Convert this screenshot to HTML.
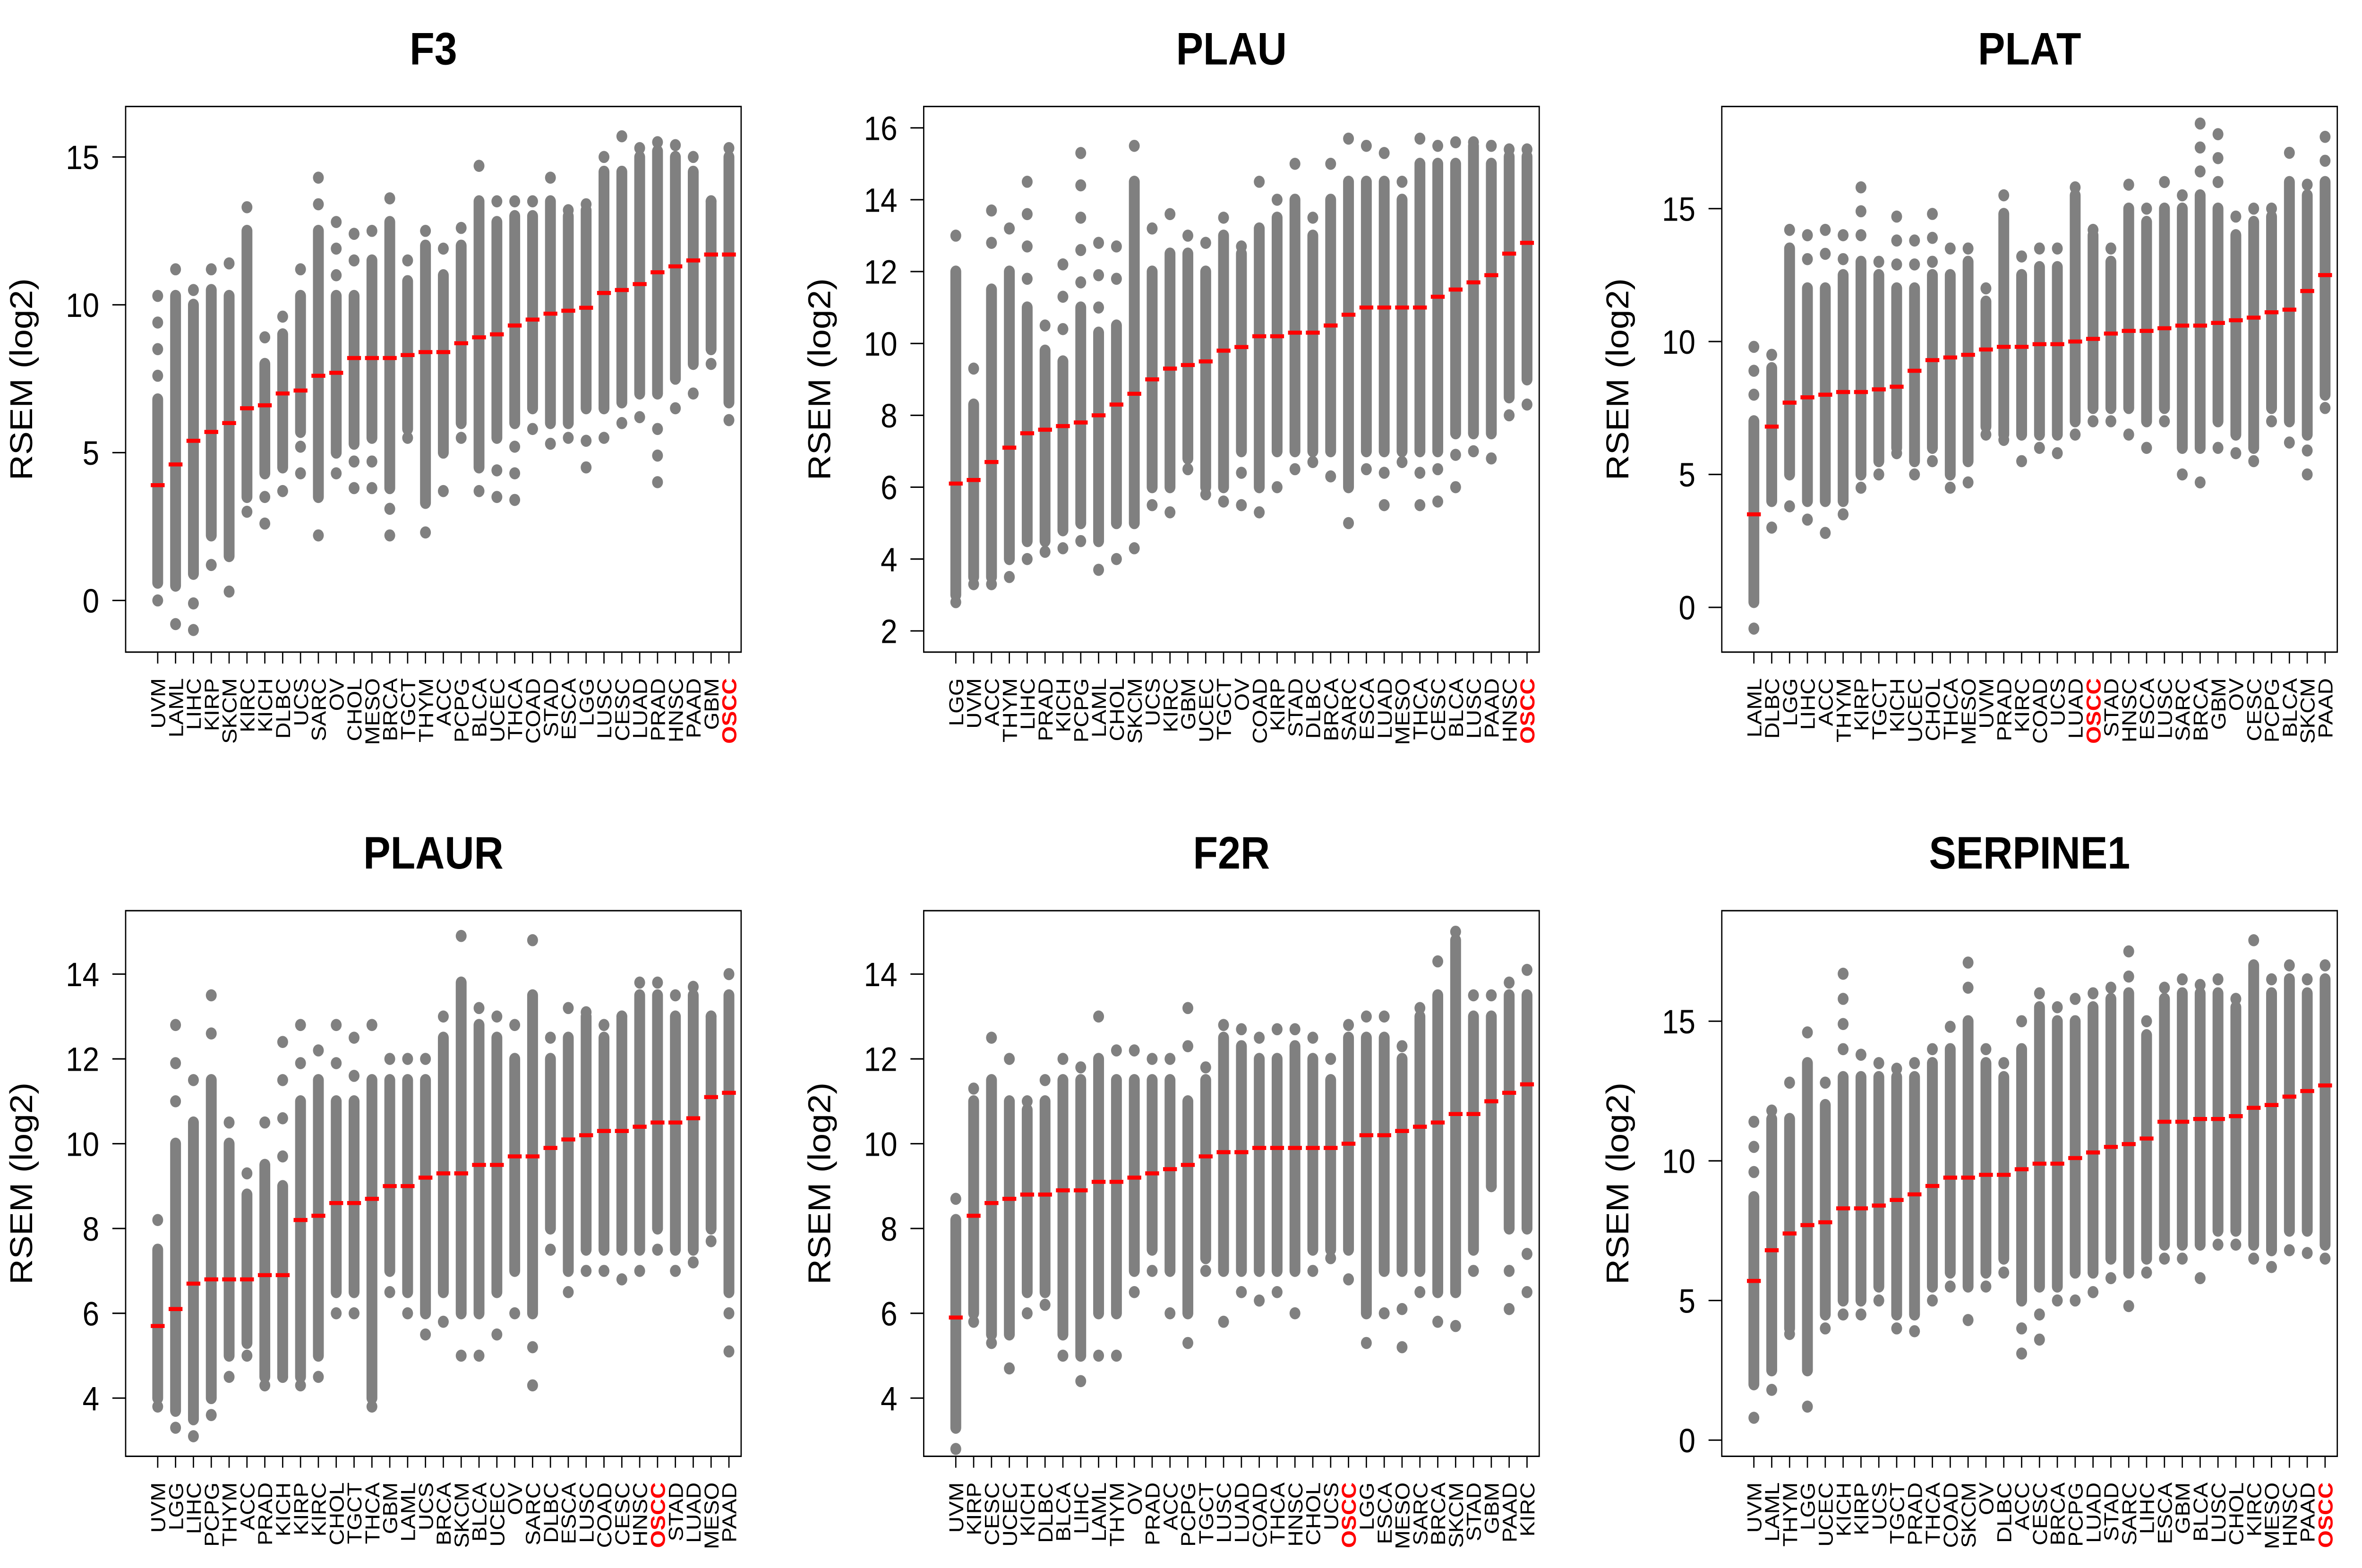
<!DOCTYPE html>
<html><head><meta charset="utf-8"><style>
html,body{margin:0;padding:0;background:#fff;width:100vw;height:100vh;overflow:hidden;}
svg{display:block;position:absolute;left:0;top:0;width:100vw;height:100vh;}
text{font-family:"Liberation Sans",Arial,sans-serif;}
</style></head><body>
<svg id="fig" viewBox="0 0 1568 932" preserveAspectRatio="none" xmlns="http://www.w3.org/2000/svg"></svg>
<script>
// ---------- DATA ----------
const f3Cats = ["UVM","LAML","LIHC","KIRP","SKCM","KIRC","KICH","DLBC","UCS","SARC","OV","CHOL","MESO","BRCA","TGCT","THYM","ACC","PCPG","BLCA","UCEC","THCA","COAD","STAD","ESCA","LGG","LUSC","CESC","LUAD","PRAD","HNSC","PAAD","GBM","OSCC"];
const f3Med = [3.9,4.6,5.4,5.7,6.0,6.5,6.6,7.0,7.1,7.6,7.7,8.2,8.2,8.2,8.3,8.4,8.4,8.7,8.9,9.0,9.3,9.5,9.7,9.8,9.9,10.4,10.5,10.7,11.1,11.3,11.5,11.7,11.7];
const f3Min = [0,-0.8,-1.0,1.2,0.3,3.0,2.6,3.7,4.3,2.2,4.3,3.8,3.8,2.2,5.5,2.3,3.7,5.5,3.7,3.5,3.4,5.8,5.3,5.5,4.5,5.5,6.0,6.2,4.0,6.5,7.0,8.0,6.1];
const f3Max = [10.3,11.2,10.5,11.2,11.4,13.3,8.9,9.6,11.2,14.3,12.8,12.4,12.5,13.6,11.5,12.5,11.9,12.6,14.7,13.5,13.5,13.5,14.3,13.2,13.4,15.0,15.7,15.3,15.5,15.4,15.0,13.5,15.3];
const f3Lo = [0.6,0.5,0.9,2.2,1.5,3.5,4.3,4.5,5.7,3.5,5.0,5.3,5.5,3.8,5.8,3.3,5.0,6.0,4.5,5.5,6.0,6.5,6.0,6.0,6.5,6.5,6.7,7.0,7.0,7.5,8.0,8.5,6.7];
const f3Hi = [6.8,10.3,10.0,10.5,10.3,12.5,8.0,9.0,10.3,12.5,10.3,10.3,11.5,12.8,10.8,12.0,11.0,12.0,13.5,12.8,13.0,13.0,13.5,13.0,13.2,14.5,14.5,15.0,15.2,15.0,14.5,13.5,15.0];

const plauCats = ["LGG","UVM","ACC","THYM","LIHC","PRAD","KICH","PCPG","LAML","CHOL","SKCM","UCS","KIRC","GBM","UCEC","TGCT","OV","COAD","KIRP","STAD","DLBC","BRCA","SARC","ESCA","LUAD","MESO","THCA","CESC","BLCA","LUSC","PAAD","HNSC","OSCC"];
const plauMed = [6.1,6.2,6.7,7.1,7.5,7.6,7.7,7.8,8.0,8.3,8.6,9.0,9.3,9.4,9.5,9.8,9.9,10.2,10.2,10.3,10.3,10.5,10.8,11.0,11.0,11.0,11.0,11.3,11.5,11.7,11.9,12.5,12.8];
const plauMin = [2.8,3.3,3.3,3.5,4.0,4.2,4.3,4.5,3.7,4.0,4.3,5.5,5.3,6.5,5.8,5.6,5.5,5.3,6.0,6.5,6.7,6.3,5.0,6.5,5.5,6.7,5.5,5.6,6.0,7.0,6.8,8.0,8.3];
const plauMax = [13.0,9.3,13.7,13.2,14.5,10.5,12.2,15.3,12.8,12.7,15.5,13.2,13.6,13.0,12.8,13.5,12.7,14.5,14.0,15.0,13.5,15.0,15.7,15.5,15.3,14.5,15.7,15.5,15.6,15.6,15.5,15.4,15.4];
const plauLo = [3.0,3.5,3.5,4.0,4.5,4.5,4.8,5.0,4.5,5.0,5.0,6.0,6.0,6.8,6.0,6.0,7.0,6.0,7.0,7.0,7.0,7.0,6.0,7.0,7.0,7.0,7.0,7.0,7.5,7.5,7.5,8.5,9.0];
const plauHi = [12.0,8.3,11.5,12.0,11.0,9.8,9.5,11.0,10.3,10.5,14.5,12.0,12.5,12.5,12.0,13.0,12.5,13.2,13.5,14.0,13.0,14.0,14.5,14.5,14.5,14.0,15.0,15.0,15.0,15.5,15.0,15.2,15.2];

const platCats = ["LAML","DLBC","LGG","LIHC","ACC","THYM","KIRP","TGCT","KICH","UCEC","CHOL","THCA","MESO","UVM","PRAD","KIRC","COAD","UCS","LUAD","OSCC","STAD","HNSC","ESCA","LUSC","SARC","BRCA","GBM","OV","CESC","PCPG","BLCA","SKCM","PAAD"];
const platMed = [3.5,6.8,7.7,7.9,8.0,8.1,8.1,8.2,8.3,8.9,9.3,9.4,9.5,9.7,9.8,9.8,9.9,9.9,10.0,10.1,10.3,10.4,10.4,10.5,10.6,10.6,10.7,10.8,10.9,11.1,11.2,11.9,12.5];
const platMin = [-0.8,3.0,3.8,3.3,2.8,3.5,4.5,5.0,5.8,5.0,5.5,4.5,4.7,6.5,6.3,5.5,6.0,5.8,6.5,7.0,7.0,6.5,6.0,7.0,5.0,4.7,6.0,5.8,5.5,7.0,6.2,5.0,7.5];
const platMax = [9.8,9.5,14.2,14.0,14.2,14.0,15.8,13.0,14.7,13.8,14.8,13.5,13.5,12.0,15.5,13.2,13.5,13.5,15.8,14.2,13.5,15.9,15.0,16.0,15.5,18.2,17.8,14.7,15.0,15.0,17.1,15.9,17.7];
const platLo = [0.2,4.0,5.0,4.0,4.0,4.0,5.0,5.5,6.0,5.5,6.0,5.0,5.5,6.8,6.5,6.5,6.5,6.5,7.0,7.5,7.5,7.5,7.0,7.5,6.0,6.0,7.0,6.5,6.0,7.5,7.0,6.5,8.0];
const platHi = [7.0,9.0,13.5,12.0,12.0,12.5,13.0,12.5,12.0,12.0,12.5,12.5,13.0,11.5,14.8,12.5,12.8,12.8,15.5,14.0,13.0,15.0,14.5,15.0,15.0,15.5,15.0,14.0,14.5,14.7,16.0,15.5,16.0];

const plaurCats = ["UVM","LGG","LIHC","PCPG","THYM","ACC","PRAD","KICH","KIRP","KIRC","CHOL","TGCT","THCA","GBM","LAML","UCS","BRCA","SKCM","BLCA","UCEC","OV","SARC","DLBC","ESCA","LUSC","COAD","CESC","HNSC","OSCC","STAD","LUAD","MESO","PAAD"];
const plaurMed = [5.7,6.1,6.7,6.8,6.8,6.8,6.9,6.9,8.2,8.3,8.6,8.6,8.7,9.0,9.0,9.2,9.3,9.3,9.5,9.5,9.7,9.7,9.9,10.1,10.2,10.3,10.3,10.4,10.5,10.5,10.6,11.1,11.2];
const plaurMin = [3.8,3.3,3.1,3.6,4.5,5.0,4.3,4.5,4.3,4.5,6.0,6.0,3.8,6.5,6.0,5.5,5.8,5.0,5.0,5.5,6.0,4.3,7.5,6.5,7.0,7.0,6.8,7.0,7.5,7.0,7.2,7.7,5.1];
const plaurMax = [8.2,12.8,11.5,13.5,10.5,9.3,10.5,12.4,12.8,12.2,12.8,12.5,12.8,12.0,12.0,12.0,13.0,14.9,13.2,13.0,12.8,14.8,12.5,13.2,13.1,12.8,13.0,13.8,13.8,13.5,13.7,13.0,14.0];
const plaurLo = [4.0,3.7,3.5,4.0,5.0,5.3,4.5,4.5,4.5,5.0,6.5,6.5,4.0,7.0,6.5,6.0,6.5,6.0,6.0,6.5,7.0,6.0,8.0,7.0,7.5,7.5,7.5,7.5,8.0,7.5,7.5,8.0,6.5];
const plaurHi = [7.5,10.0,10.5,11.5,10.0,8.8,9.5,9.0,11.0,11.5,11.0,11.0,11.5,11.5,11.5,11.5,12.5,13.8,12.8,12.5,12.0,13.5,12.0,12.5,13.0,12.5,13.0,13.5,13.5,13.0,13.5,13.0,13.5];

const f2rCats = ["UVM","KIRP","CESC","UCEC","KICH","DLBC","BLCA","LIHC","LAML","THYM","OV","PRAD","ACC","PCPG","TGCT","LUSC","LUAD","COAD","THCA","HNSC","CHOL","UCS","OSCC","LGG","ESCA","MESO","SARC","BRCA","SKCM","STAD","GBM","PAAD","KIRC"];
const f2rMed = [5.9,8.3,8.6,8.7,8.8,8.8,8.9,8.9,9.1,9.1,9.2,9.3,9.4,9.5,9.7,9.8,9.8,9.9,9.9,9.9,9.9,9.9,10.0,10.2,10.2,10.3,10.4,10.5,10.7,10.7,11.0,11.2,11.4];
const f2rMin = [2.8,5.8,5.3,4.7,6.0,6.2,5.0,4.4,5.0,5.0,6.5,7.0,6.0,5.3,7.0,5.8,6.5,6.3,6.5,6.0,7.0,7.3,6.8,5.3,6.0,5.2,6.5,5.8,5.7,7.0,9.0,6.1,6.5];
const f2rMax = [8.7,11.3,12.5,12.0,11.0,11.5,12.0,11.8,13.0,12.2,12.2,12.0,12.0,13.2,11.8,12.8,12.7,12.5,12.7,12.7,12.5,12.0,12.8,13.0,13.0,12.3,13.2,14.3,15.0,13.5,13.5,13.8,14.1];
const f2rLo = [3.3,6.0,5.5,5.5,6.5,6.5,5.5,5.0,6.0,6.0,7.0,7.5,7.0,6.0,7.3,7.0,7.0,7.0,7.0,7.0,7.5,7.5,7.5,6.0,7.0,7.0,7.0,6.5,6.5,7.5,9.0,8.0,8.0];
const f2rHi = [8.2,11.0,11.5,11.0,10.8,11.0,11.5,11.5,12.0,11.5,11.5,11.5,11.5,11.0,11.5,12.5,12.3,12.0,12.0,12.3,12.0,11.5,12.5,12.5,12.5,12.0,13.0,13.5,14.8,13.0,13.0,13.5,13.5];

const serpCats = ["UVM","LAML","THYM","LGG","UCEC","KICH","KIRP","UCS","TGCT","PRAD","THCA","COAD","SKCM","OV","DLBC","ACC","CESC","BRCA","PCPG","LUAD","STAD","SARC","LIHC","ESCA","GBM","BLCA","LUSC","CHOL","KIRC","MESO","HNSC","PAAD","OSCC"];
const serpMed = [5.7,6.8,7.4,7.7,7.8,8.3,8.3,8.4,8.6,8.8,9.1,9.4,9.4,9.5,9.5,9.7,9.9,9.9,10.1,10.3,10.5,10.6,10.8,11.4,11.4,11.5,11.5,11.6,11.9,12.0,12.3,12.5,12.7];
const serpMin = [0.8,1.8,3.8,1.2,4.0,4.5,4.5,5.0,4.0,3.9,5.0,5.5,4.3,5.5,6.0,3.1,3.6,5.0,5.0,5.3,5.8,4.8,6.0,6.5,6.5,5.8,7.0,7.0,6.5,6.2,6.8,6.7,6.5];
const serpMax = [11.4,11.8,12.8,14.6,12.8,16.7,13.8,13.5,13.3,13.5,14.0,14.8,17.1,14.0,13.5,15.0,16.0,15.5,15.8,16.0,16.2,17.5,15.0,16.2,16.5,16.3,16.5,15.8,17.9,16.5,17.0,16.5,17.0];
const serpLo = [2.0,2.5,4.0,2.5,4.5,5.0,5.0,5.5,4.5,4.5,5.5,6.0,5.5,6.0,6.5,5.0,5.5,5.5,6.0,6.0,6.5,6.0,6.5,7.0,7.0,7.0,7.5,7.5,7.0,6.8,7.5,7.5,7.0];
const serpHi = [8.7,11.5,11.5,13.5,12.0,13.0,13.0,13.0,13.0,13.0,13.5,14.0,15.0,13.5,13.0,14.0,15.5,15.0,15.0,15.5,15.8,16.0,14.5,15.8,16.0,16.0,16.0,15.5,17.0,16.0,16.5,16.0,16.5];

const yTicksF3 = [0,5,10,15];
const yTicksPLAU = [2,4,6,8,10,12,14,16];
const yTicksPLAT = [0,5,10,15];
const yTicksPLAUR = [4,6,8,10,12,14];
const yTicksF2R = [4,6,8,10,12,14];
const yTicksSERP = [0,5,10,15];

// ---------- LAYOUT ----------
const NS = "http://www.w3.org/2000/svg";
const fig = document.getElementById("fig");
function mk(tag, attrs, parent, txt){
  const e = document.createElementNS(NS, tag);
  for (const k in attrs) e.setAttribute(k, attrs[k]);
  if (txt !== undefined) e.textContent = txt;
  parent.appendChild(e);
  return e;
}
const panels = [
  {key:"f3", title:"F3", x0:83.4, y0:63.3, cats:f3Cats, med:f3Med, mn:f3Min, mx:f3Max, lo:f3Lo, hi:f3Hi, ticks:yTicksF3, vA:15, pA:93.3, vB:0, pB:356.9},
  {key:"plau", title:"PLAU", x0:613.2, y0:63.3, cats:plauCats, med:plauMed, mn:plauMin, mx:plauMax, lo:plauLo, hi:plauHi, ticks:yTicksPLAU, vA:16, pA:76, vB:2, pB:375},
  {key:"plat", title:"PLAT", x0:1143, y0:63.3, cats:platCats, med:platMed, mn:platMin, mx:platMax, lo:platLo, hi:platHi, ticks:yTicksPLAT, vA:15, pA:124, vB:0, pB:361},
  {key:"plaur", title:"PLAUR", x0:83.4, y0:541.3, cats:plaurCats, med:plaurMed, mn:plaurMin, mx:plaurMax, lo:plaurLo, hi:plaurHi, ticks:yTicksPLAUR, vA:14, pA:579, vB:4, pB:831},
  {key:"f2r", title:"F2R", x0:613.2, y0:541.3, cats:f2rCats, med:f2rMed, mn:f2rMin, mx:f2rMax, lo:f2rLo, hi:f2rHi, ticks:yTicksF2R, vA:14, pA:579, vB:4, pB:831},
  {key:"serpine1", title:"SERPINE1", x0:1143, y0:541.3, cats:serpCats, med:serpMed, mn:serpMin, mx:serpMax, lo:serpLo, hi:serpHi, ticks:yTicksSERP, vA:15, pA:607, vB:0, pB:856}
];
const W = 408.6, H = 324.3, firstOff = 21.3, step = 11.85, R = 3.6;

panels.forEach(p => {
  const g = mk("g", {}, fig);
  
  
  const yS = v => p.pB + (v - p.vB) * (p.pA - p.pB) / (p.vA - p.vB);
  const xS = i => p.x0 + firstOff + i * step;

  const t = mk("text", {x:p.x0 + W/2, y:p.y0 - 25, "text-anchor":"middle", "font-size":"27", "font-weight":"bold"}, g, p.title);
  
  

  const yt = mk("text", {x:0, y:0, "text-anchor":"middle", "font-size":"21", transform:`translate(${p.x0-62},${p.y0+H/2}) rotate(-90)`}, g, "RSEM (log2)");
  
  

  const marks = mk("g", {fill:"#808080"}, g);
  
  
  p.cats.forEach((c, i) => {
    const x = xS(i);
    const yl = yS(p.lo[i]), yh = yS(p.hi[i]);
    const strip = mk("rect", {x:x - R, y:yh - R, width:2*R, height:(yl - yh) + 2*R, rx:R, ry:R}, marks);
    
    
    const lowVals = [p.mn[i]];
    for (let v = p.mn[i] + 0.9; v < p.lo[i] - 0.4; v += 0.9) lowVals.push(v);
    const highVals = [p.mx[i]];
    for (let v = p.mx[i] - 0.9; v > p.hi[i] + 0.4; v -= 0.9) highVals.push(v);
    lowVals.concat(highVals).forEach(v => {
      const d = mk("circle", {cx:x, cy:yS(v), r:R}, marks);
      
      
    });
  });
  p.cats.forEach((c, i) => {
    const x = xS(i);
    const m = mk("line", {x1:x - 4.6, x2:x + 4.6, y1:yS(p.med[i]), y2:yS(p.med[i]), stroke:"#ff0000", "stroke-width":"2.4"}, g);
    
    
  });

  const box = mk("rect", {x:p.x0, y:p.y0, width:W, height:H, fill:"none", stroke:"#000", "stroke-width":"0.85"}, g);
  
  

  p.ticks.forEach(v => {
    const y = yS(v);
    const tk = mk("line", {x1:p.x0 - 8.8, x2:p.x0, y1:y, y2:y, stroke:"#000", "stroke-width":"0.85"}, g);
    
    
    const tl = mk("text", {x:p.x0 - 17.5, y:y + 7.2, "text-anchor":"end", "font-size":"20"}, g, String(v));
    
    
  });

  const yb = p.y0 + H;
  p.cats.forEach((c, i) => {
    const x = xS(i);
    const tk = mk("line", {x1:x, x2:x, y1:yb + 0.4, y2:yb + 6.8, stroke:"#000", "stroke-width":"0.85"}, g);
    
    
    const isO = c === "OSCC";
    const lab = mk("text", {x:0, y:0, "text-anchor":"end", "font-size":"13.5", fill:isO ? "#ff0000" : "#000", "font-weight":isO ? "bold" : "normal", transform:`translate(${x + 4.9},${yb + 15.5}) rotate(-90)`}, g, c);
    
    
  });
});
</script>
</body></html>
